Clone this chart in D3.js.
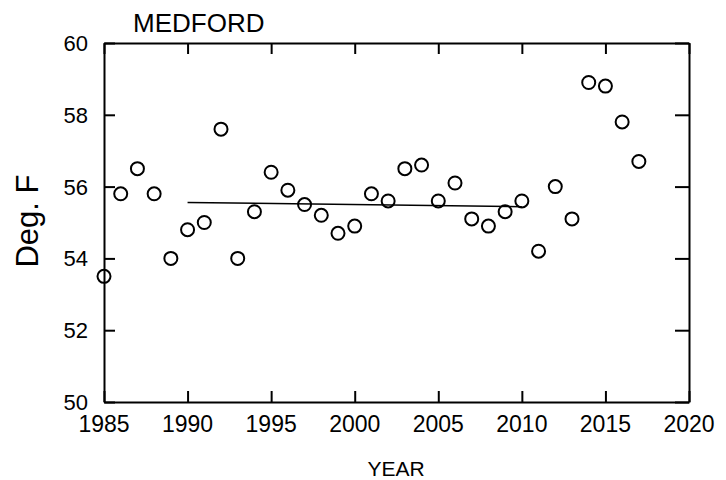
<!DOCTYPE html>
<html>
<head>
<meta charset="utf-8">
<script src="https://cdn.jsdelivr.net/npm/d3@7"></script>
<style>
  body { margin: 0; background: #fff; }
  text { font-family: "Liberation Sans", Arial, sans-serif; fill: #000; }
</style>
</head>
<body>
<svg width="726" height="480"></svg>
<script>
// annual mean temperature, Medford
var years = [1985, 1986, 1987, 1988, 1989, 1990, 1991, 1992, 1993, 1994,
             1995, 1996, 1997, 1998, 1999, 2000, 2001, 2002, 2003, 2004,
             2005, 2006, 2007, 2008, 2009, 2010, 2011, 2012, 2013, 2014,
             2015, 2016, 2017];
var temps = [53.5, 55.8, 56.5, 55.8, 54.0, 54.8, 55.0, 57.6, 54.0, 55.3,
             56.4, 55.9, 55.5, 55.2, 54.7, 54.9, 55.8, 55.6, 56.5, 56.6,
             55.6, 56.1, 55.1, 54.9, 55.3, 55.6, 54.2, 56.0, 55.1, 58.9,
             58.8, 57.8, 56.7];
// trend line 1990-2010
var trendYears = [1990, 2010];
var trendTemps = [55.56, 55.44];

var xTicks = [1985, 1990, 1995, 2000, 2005, 2010, 2015, 2020];
var yTicks = [50, 52, 54, 56, 58, 60];

var plotL = 104, plotR = 689, plotT = 43, plotB = 402;

var svg = d3.select('svg');

var x = d3.scaleLinear().domain([1985, 2020]).range([plotL, plotR]);
var y = d3.scaleLinear().domain([50, 60]).range([plotB, plotT]);

var tl = 11;

// frame with inward ticks on all four sides
svg.append('g').attr('transform', 'translate(0,' + plotB + ')')
    .call(d3.axisTop(x).tickValues(xTicks).tickSize(tl).tickSizeOuter(0).tickFormat(''))
    .call(styleAxis);
svg.append('g').attr('transform', 'translate(0,' + plotT + ')')
    .call(d3.axisBottom(x).tickValues(xTicks).tickSize(tl).tickSizeOuter(0).tickFormat(''))
    .call(styleAxis);
svg.append('g').attr('transform', 'translate(' + plotL + ',0)')
    .call(d3.axisRight(y).tickValues(yTicks).tickSize(tl).tickSizeOuter(0).tickFormat(''))
    .call(styleAxis);
svg.append('g').attr('transform', 'translate(' + plotR + ',0)')
    .call(d3.axisLeft(y).tickValues(yTicks).tickSize(tl + 3).tickSizeOuter(0).tickFormat(''))
    .call(styleAxis);

function styleAxis(g) {
  g.select('.domain').attr('stroke', '#000').attr('stroke-width', 2);
  g.selectAll('.tick line').attr('stroke', '#000').attr('stroke-width', 2);
}

// tick labels
svg.append('g').selectAll('text').data(xTicks).enter().append('text')
    .attr('x', function(d){ return x(d); })
    .attr('y', 432)
    .attr('text-anchor', 'middle')
    .attr('font-size', 23)
    .text(function(d){ return d; });

svg.append('g').selectAll('text').data(yTicks).enter().append('text')
    .attr('x', 88)
    .attr('y', function(d){ return y(d) + 8; })
    .attr('text-anchor', 'end')
    .attr('font-size', 22)
    .text(function(d){ return d; });

// trend
var line = d3.line()
    .x(function(d){ return x(d[0]); })
    .y(function(d){ return y(d[1]); });
svg.append('path')
    .datum(d3.zip(trendYears, trendTemps))
    .attr('d', line)
    .attr('fill', 'none')
    .attr('stroke', '#000')
    .attr('stroke-width', 1.5);

// points
svg.append('g').selectAll('circle').data(d3.zip(years, temps)).enter().append('circle')
    .attr('cx', function(d){ return x(d[0]); })
    .attr('cy', function(d){ return y(d[1]); })
    .attr('r', 6.5)
    .attr('fill', 'none')
    .attr('stroke', '#000')
    .attr('stroke-width', 2);

// titles
svg.append('text')
    .attr('x', 133).attr('y', 32)
    .attr('font-size', 26)
    .text('MEDFORD');

svg.append('text')
    .attr('x', 396).attr('y', 476)
    .attr('text-anchor', 'middle')
    .attr('font-size', 21)
    .text('YEAR');

svg.append('text')
    .attr('transform', 'translate(38,221) rotate(-90)')
    .attr('text-anchor', 'middle')
    .attr('font-size', 31)
    .text('Deg. F');
</script>
</body>
</html>
